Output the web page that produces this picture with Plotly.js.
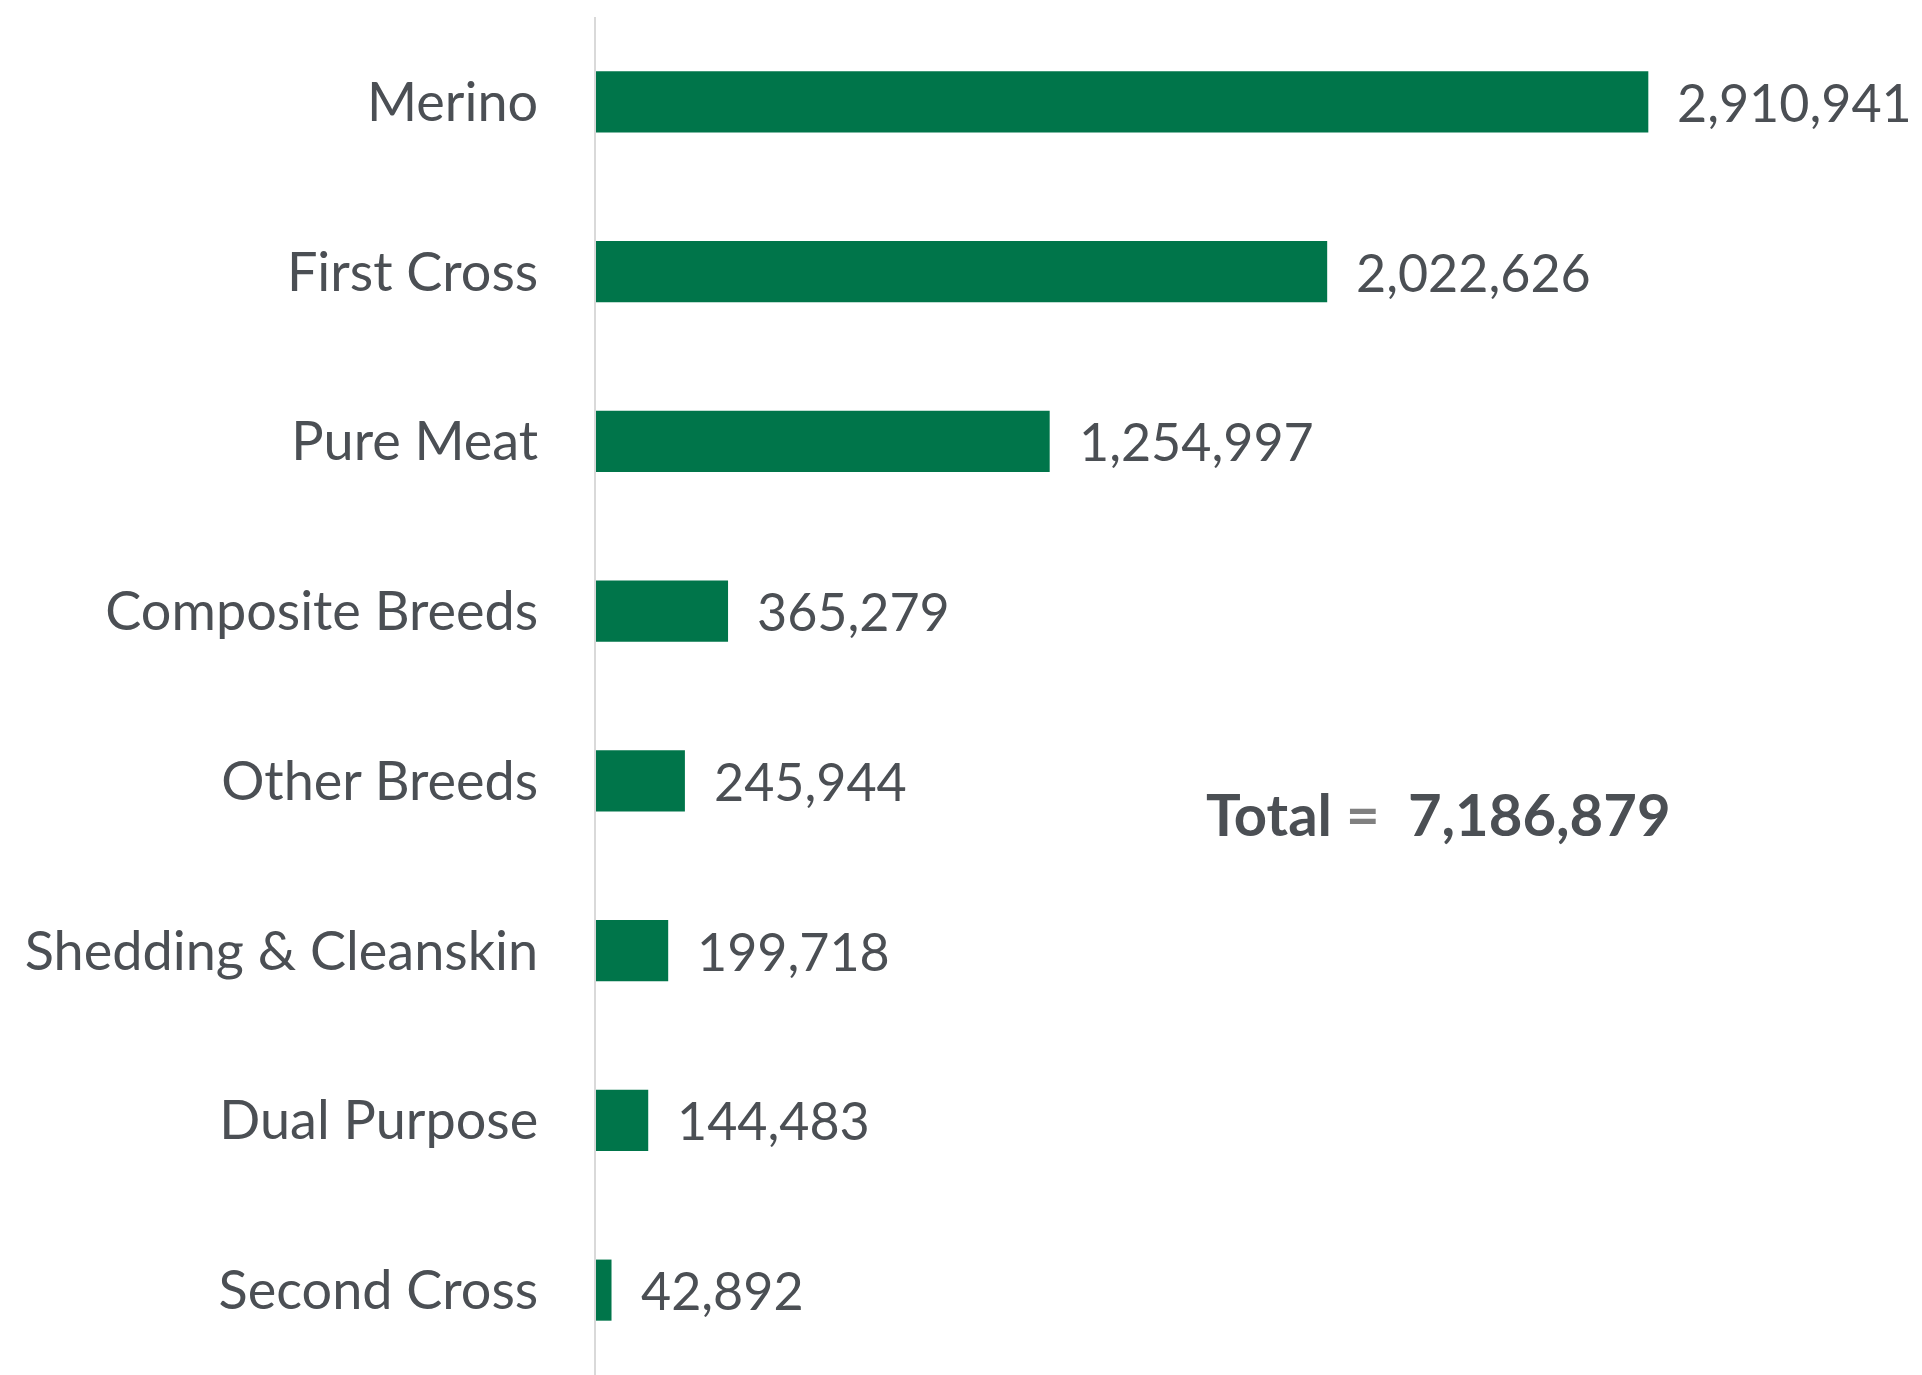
<!DOCTYPE html>
<html>
<head>
<meta charset="utf-8">
<script src="https://cdn.plot.ly/plotly-3.0.1.min.js"></script>
<style>html,body{margin:0;padding:0;background:#fff;}#chart{width:1922px;height:1375px;}</style>
</head>
<body>
<div id="chart"></div>
<script>
const categories = ["Merino", "First Cross", "Pure Meat", "Composite Breeds", "Other Breeds", "Shedding & Cleanskin", "Dual Purpose", "Second Cross"];
const values = [2910941, 2022626, 1254997, 365279, 245944, 199718, 144483, 42892];
const totalLabel = "Total";
const totalValue = 7186879;

const textColor = "#4B4F54";
const fontFamily = "Lato, 'Open Sans', sans-serif";

const trace = {
  type: "bar",
  orientation: "h",
  x: values,
  y: categories,
  marker: {color: "#00754A", line: {width: 0}},
  width: 0.36,
  hoverinfo: "skip"
};

const annotations = values.map((v, i) => ({
  x: v, y: categories[i], xref: "x", yref: "y",
  text: v.toLocaleString("en-US"),
  showarrow: false, xanchor: "left", yanchor: "middle",
  xshift: 27,
  font: {family: fontFamily, size: 52, color: textColor}
}));

annotations.push({
  xref: "paper", yref: "paper", x: (1204 - 596) / 1326, y: 1 - (813 - 17) / 1358,
  xanchor: "left", yanchor: "middle", showarrow: false,
  text: "<b>" + totalLabel + " <span style='color:#808080'>=</span>  " + totalValue.toLocaleString("en-US") + "</b>",
  font: {family: fontFamily, size: 58, color: textColor}
});

const layout = {
  width: 1922, height: 1375,
  margin: {l: 596, r: 0, t: 17, b: 0, pad: 0},
  paper_bgcolor: "#fff", plot_bgcolor: "#fff",
  showlegend: false,
  xaxis: {range: [0, 3668000], showgrid: false, zeroline: false, showticklabels: false, showline: false, fixedrange: true},
  yaxis: {
    autorange: "reversed", showgrid: false, zeroline: false,
    showline: true, linecolor: "#D9D9D9", linewidth: 2,
    ticks: "outside", ticklen: 45, tickcolor: "rgba(0,0,0,0)",
    tickfont: {family: fontFamily, size: 54, color: textColor},
    fixedrange: true
  },
  annotations: annotations
};

Plotly.newPlot("chart", [trace], layout, {displayModeBar: false, staticPlot: true});
</script>
</body>
</html>
